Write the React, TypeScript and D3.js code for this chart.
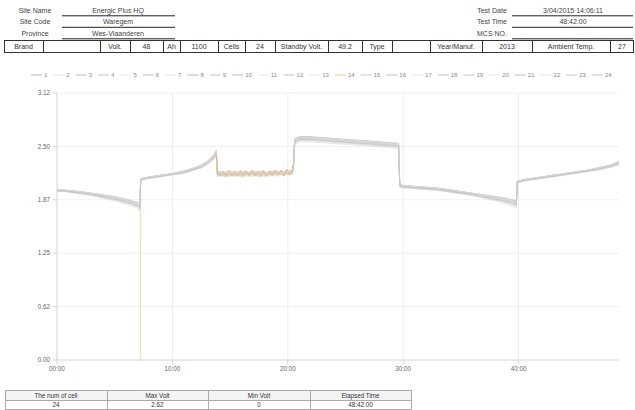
import React from 'react';
import * as d3 from 'd3';

// ---------- data ----------
const cellNames = ['1','2','3','4','5','6','7','8','9','10','11','12','13','14','15','16','17','18','19','20','21','22','23','24'];

const timeHours = [
  0, 0.5, 1, 2, 3, 4, 5, 6, 6.5, 7, 7.2,
  7.25, 8, 9, 10, 11, 12, 12.5, 13, 13.5, 13.8,
  13.9, 14.15, 14.4, 14.65, 14.9, 15.15, 15.4, 15.65, 15.9, 16.15, 16.4, 16.65, 16.9, 17.15, 17.4, 17.65, 17.9, 18.15, 18.4, 18.65, 18.9, 19.15, 19.4, 19.65, 19.9, 20.15, 20.4,
  20.5,
  20.6, 21, 22, 23, 24, 25, 26, 27, 28, 29, 29.6,
  29.7, 30, 31, 32, 33, 34, 35, 36, 37, 38, 39, 39.8,
  39.9, 40.5, 41, 42, 43, 44, 45, 46, 47, 48, 48.7,
];

const upperVolts = [
  1.99, 1.99, 1.98, 1.97, 1.95, 1.93, 1.91, 1.88, 1.86, 1.84, 1.83,
  2.12, 2.14, 2.16, 2.18, 2.21, 2.25, 2.28, 2.32, 2.38, 2.45,
  2.19, 2.20, 2.19, 2.20, 2.19, 2.20, 2.19, 2.20, 2.19, 2.20, 2.20, 2.19, 2.20, 2.20, 2.19, 2.20, 2.20, 2.19, 2.20, 2.20, 2.21, 2.20, 2.21, 2.20, 2.21, 2.21, 2.22,
  2.30,
  2.59, 2.61, 2.61, 2.60, 2.59, 2.58, 2.57, 2.56, 2.55, 2.54, 2.53,
  2.05, 2.04, 2.03, 2.02, 2.01, 1.99, 1.97, 1.95, 1.93, 1.91, 1.89, 1.86,
  2.09, 2.11, 2.12, 2.14, 2.16, 2.18, 2.20, 2.22, 2.25, 2.28, 2.32,
];

const lowerVolts = [
  1.97, 1.97, 1.96, 1.94, 1.92, 1.89, 1.86, 1.82, 1.80, 1.77, 1.74,
  2.10, 2.12, 2.14, 2.16, 2.18, 2.22, 2.24, 2.28, 2.33, 2.38,
  2.14, 2.15, 2.14, 2.15, 2.14, 2.15, 2.14, 2.15, 2.14, 2.15, 2.15, 2.14, 2.15, 2.15, 2.14, 2.15, 2.15, 2.14, 2.15, 2.15, 2.15, 2.15, 2.16, 2.15, 2.16, 2.16, 2.17,
  2.26,
  2.52, 2.55, 2.55, 2.54, 2.53, 2.52, 2.51, 2.50, 2.49, 2.48, 2.47,
  2.02, 2.01, 2.00, 1.99, 1.98, 1.96, 1.94, 1.92, 1.89, 1.86, 1.82, 1.78,
  2.07, 2.09, 2.10, 2.12, 2.14, 2.16, 2.18, 2.20, 2.22, 2.25, 2.28,
];

// cell 14 float-period readings (13.9h .. 20.4h)
const cell14Float = [
  2.22, 2.15, 2.21, 2.14, 2.22, 2.15, 2.21, 2.15, 2.22, 2.14, 2.21, 2.15, 2.22, 2.15, 2.21, 2.14, 2.22, 2.15, 2.21, 2.15, 2.22, 2.16, 2.22, 2.15, 2.23, 2.16, 2.23,
];
const cell14DropHour = 7.22;
const cell14DropVolt = 0;

// where each cell sits inside the band (0 = top, 1 = bottom)
const cellBandPos = [0.1, 0.3, 0.05, 0.2, 0.5, 0.15, 0.35, 0.0, 0.25, 0.6, 0.1, 0.45, 0.2, 0.5, 0.8, 0.05, 0.4, 0.15, 1.0, 0.25, 0.55, 0.1, 0.7, 0.35];

const cellColors = ['#b5b5b5','#e6e6e6','#bdbdbd','#c4c4c4','#e8e8e8','#c0c0c0','#e9e9e9','#bababa','#c6c6c6','#bcbcbc','#e4e4e4','#c2c2c2','#e7e7e7','#f2cd93','#c8c8c8','#bfbfbf','#e5e5e5','#c3c3c3','#c9c9c9','#e6e6e6','#bebebe','#e8e8e8','#c5c5c5','#c1c1c1'];

const yMax = 3.12;
const yTickCount = 5;
const xTickHours = [0, 10, 20, 30, 40];
const xTickLabels = ['00:00', '10:00', '20:00', '30:00', '40:00'];
const totalHours = 48.7;

const headerLeftLabels = ['Site Name', 'Site Code', 'Province'];
const headerLeftValues = ['Energic Plus HQ', 'Waregem', 'Wes-Vlaanderen'];
const headerRightLabels = ['Test Date', 'Test Time', 'MCS NO.'];
const headerRightValues = ['3/04/2015 14:06:11', '48:42:00', ''];
const infoCells = ['Brand', '', 'Volt.', '48', 'Ah', '1100', 'Cells', '24', 'Standby Volt.', '49.2', 'Type', '', 'Year/Manuf.', '2013', 'Ambient Temp.', '27'];
const summaryHeaders = ['The num of cell', 'Max Volt', 'Min Volt', 'Elapsed Time'];
const summaryValues = ['24', '2.62', '0', '48:42:00'];

// ---------- layout ----------
const W = 635, H = 410;
const FONT = '"Liberation Sans", Arial, Helvetica, sans-serif';
const plot = { left: 57, right: 619, top: 93, bottom: 360 };
const infoBorders = [4, 43, 100, 130, 163, 180, 218, 245, 275, 328, 362, 392, 430, 482, 532, 610, 634];
const summaryBorders = [5, 107, 208, 310, 411];

export default function App() {
  const x = d3.scaleLinear().domain([0, totalHours]).range([plot.left, plot.right]);
  const y = d3.scaleLinear().domain([0, yMax]).range([plot.bottom, plot.top]);
  const yTicks = d3.range(yTickCount + 1).map((i) => (yMax / yTickCount) * i);

  const series = cellNames.map((_, ci) => {
    const pts: [number, number][] = [];
    let f = 0;
    timeHours.forEach((t, k) => {
      let v = upperVolts[k] + cellBandPos[ci] * (lowerVolts[k] - upperVolts[k]);
      if (ci === 13 && t >= 13.9 && t <= 20.4) {
        v = cell14Float[f++];
      }
      pts.push([t, v]);
      if (ci === 13 && t === 7.2) pts.push([cell14DropHour, cell14DropVolt]);
    });
    return pts;
  });
  const cell14FloatPts = series[13].filter((d) => d[0] >= 13.8 && d[0] <= 20.5);

  const line = d3.line<[number, number]>().x((d) => x(d[0])).y((d) => y(d[1]));

  const legendItems: { x: number; name: string; color: string }[] = [];
  let lx = 31;
  cellNames.forEach((n, i) => {
    legendItems.push({ x: lx, name: n, color: cellColors[i] });
    lx += 13 + n.length * 3.35 + 6;
  });

  const order = [13].concat(d3.range(24).filter((i) => i !== 13));

  return (
    <svg width={W} height={H} style={{ position: 'absolute', left: 0, top: 0, background: '#fff' }} fontFamily={FONT}>
      <rect width={W} height={H} fill="#fff" />
      {headerLeftLabels.map((l, i) => (
        <g key={'hl' + i}>
          <text x={35} y={12.5 + i * 11.5} fontSize={7} textAnchor="middle" fill="#444">{l}</text>
          <text x={118} y={12.5 + i * 11.5} fontSize={7} textAnchor="middle" fill="#444">{headerLeftValues[i]}</text>
          <line x1={62} x2={175} y1={15.8 + i * 11.5} y2={15.8 + i * 11.5} stroke="#222" strokeWidth={1} />
        </g>
      ))}
      {headerRightLabels.map((l, i) => (
        <g key={'hr' + i}>
          <text x={492} y={12.5 + i * 11.5} fontSize={7} textAnchor="middle" fill="#444">{l}</text>
          <text x={573} y={12.5 + i * 11.5} fontSize={7} textAnchor="middle" fill="#444">{headerRightValues[i]}</text>
          <line x1={512} x2={633} y1={15.8 + i * 11.5} y2={15.8 + i * 11.5} stroke="#222" strokeWidth={1} />
        </g>
      ))}
      <rect x={4.5} y={40.5} width={629} height={12} fill="none" stroke="#333" strokeWidth={1} />
      {infoBorders.slice(1, -1).map((bx, i) => (
        <line key={'ib' + i} x1={bx + 0.5} x2={bx + 0.5} y1={40.5} y2={52.5} stroke="#333" strokeWidth={1} />
      ))}
      {infoCells.map((c, i) => (
        <text key={'ic' + i} x={(infoBorders[i] + infoBorders[i + 1]) / 2} y={49.3} fontSize={7} textAnchor="middle" fill="#333">{c}</text>
      ))}

      {legendItems.map((it, i) => (
        <g key={'lg' + i}>
          <line x1={it.x} x2={it.x + 11} y1={75} y2={75} stroke={it.color} strokeWidth={1} />
          <text x={it.x + 13} y={77.2} fontSize={6} fill="#8a8a8a">{it.name}</text>
        </g>
      ))}

      {yTicks.map((v, i) => (
        <line key={'gy' + i} x1={plot.left} x2={plot.right} y1={y(v)} y2={y(v)} stroke={i === 0 ? '#d4d4d4' : '#f0f0f0'} strokeWidth={1} />
      ))}
      {xTickHours.slice(1).map((h, i) => (
        <line key={'gx' + i} x1={x(h)} x2={x(h)} y1={plot.top} y2={plot.bottom} stroke="#eeeeee" strokeWidth={1} />
      ))}
      <line x1={plot.left} x2={plot.left} y1={plot.top} y2={plot.bottom} stroke="#d4d4d4" strokeWidth={1} />
      {yTicks.map((v, i) => (
        <g key={'yt' + i}>
          <line x1={plot.left - 4} x2={plot.left} y1={y(v)} y2={y(v)} stroke="#d4d4d4" />
          <text x={plot.left - 7} y={y(v) + 2.2} fontSize={6.3} textAnchor="end" fill="#666">{d3.format('.2f')(v)}</text>
        </g>
      ))}
      {xTickHours.map((h, i) => (
        <g key={'xt' + i}>
          <line x1={x(h)} x2={x(h)} y1={plot.bottom} y2={plot.bottom + 4} stroke="#d4d4d4" />
          <text x={x(h)} y={plot.bottom + 10.5} fontSize={6.3} textAnchor="middle" fill="#666">{xTickLabels[i]}</text>
        </g>
      ))}

      {order.map((ci) => (
        <path key={'s' + ci} d={line(series[ci]) || ''} fill="none" stroke={cellColors[ci]} strokeWidth={0.8} strokeOpacity={ci === 13 ? 0.6 : 0.55} />
      ))}
      <path d={line(cell14FloatPts) || ''} fill="none" stroke="#efbd72" strokeWidth={1} strokeOpacity={0.85} />

      <rect x={summaryBorders[0] + 0.5} y={390.5} width={summaryBorders[4] - summaryBorders[0]} height={10} fill="#f4f4f4" />
      <rect x={summaryBorders[0] + 0.5} y={390.5} width={summaryBorders[4] - summaryBorders[0]} height={19} fill="none" stroke="#aaa" />
      <line x1={summaryBorders[0] + 0.5} x2={summaryBorders[4] + 0.5} y1={400.5} y2={400.5} stroke="#aaa" />
      {summaryBorders.slice(1, -1).map((bx, i) => (
        <line key={'sb' + i} x1={bx + 0.5} x2={bx + 0.5} y1={390.5} y2={409.5} stroke="#aaa" />
      ))}
      {summaryHeaders.map((s, i) => (
        <text key={'sh' + i} x={(summaryBorders[i] + summaryBorders[i + 1]) / 2} y={397.8} fontSize={6.3} textAnchor="middle" fill="#333">{s}</text>
      ))}
      {summaryValues.map((s, i) => (
        <text key={'sv' + i} x={(summaryBorders[i] + summaryBorders[i + 1]) / 2} y={407.3} fontSize={6.3} textAnchor="middle" fill="#333">{s}</text>
      ))}
    </svg>
  );
}
